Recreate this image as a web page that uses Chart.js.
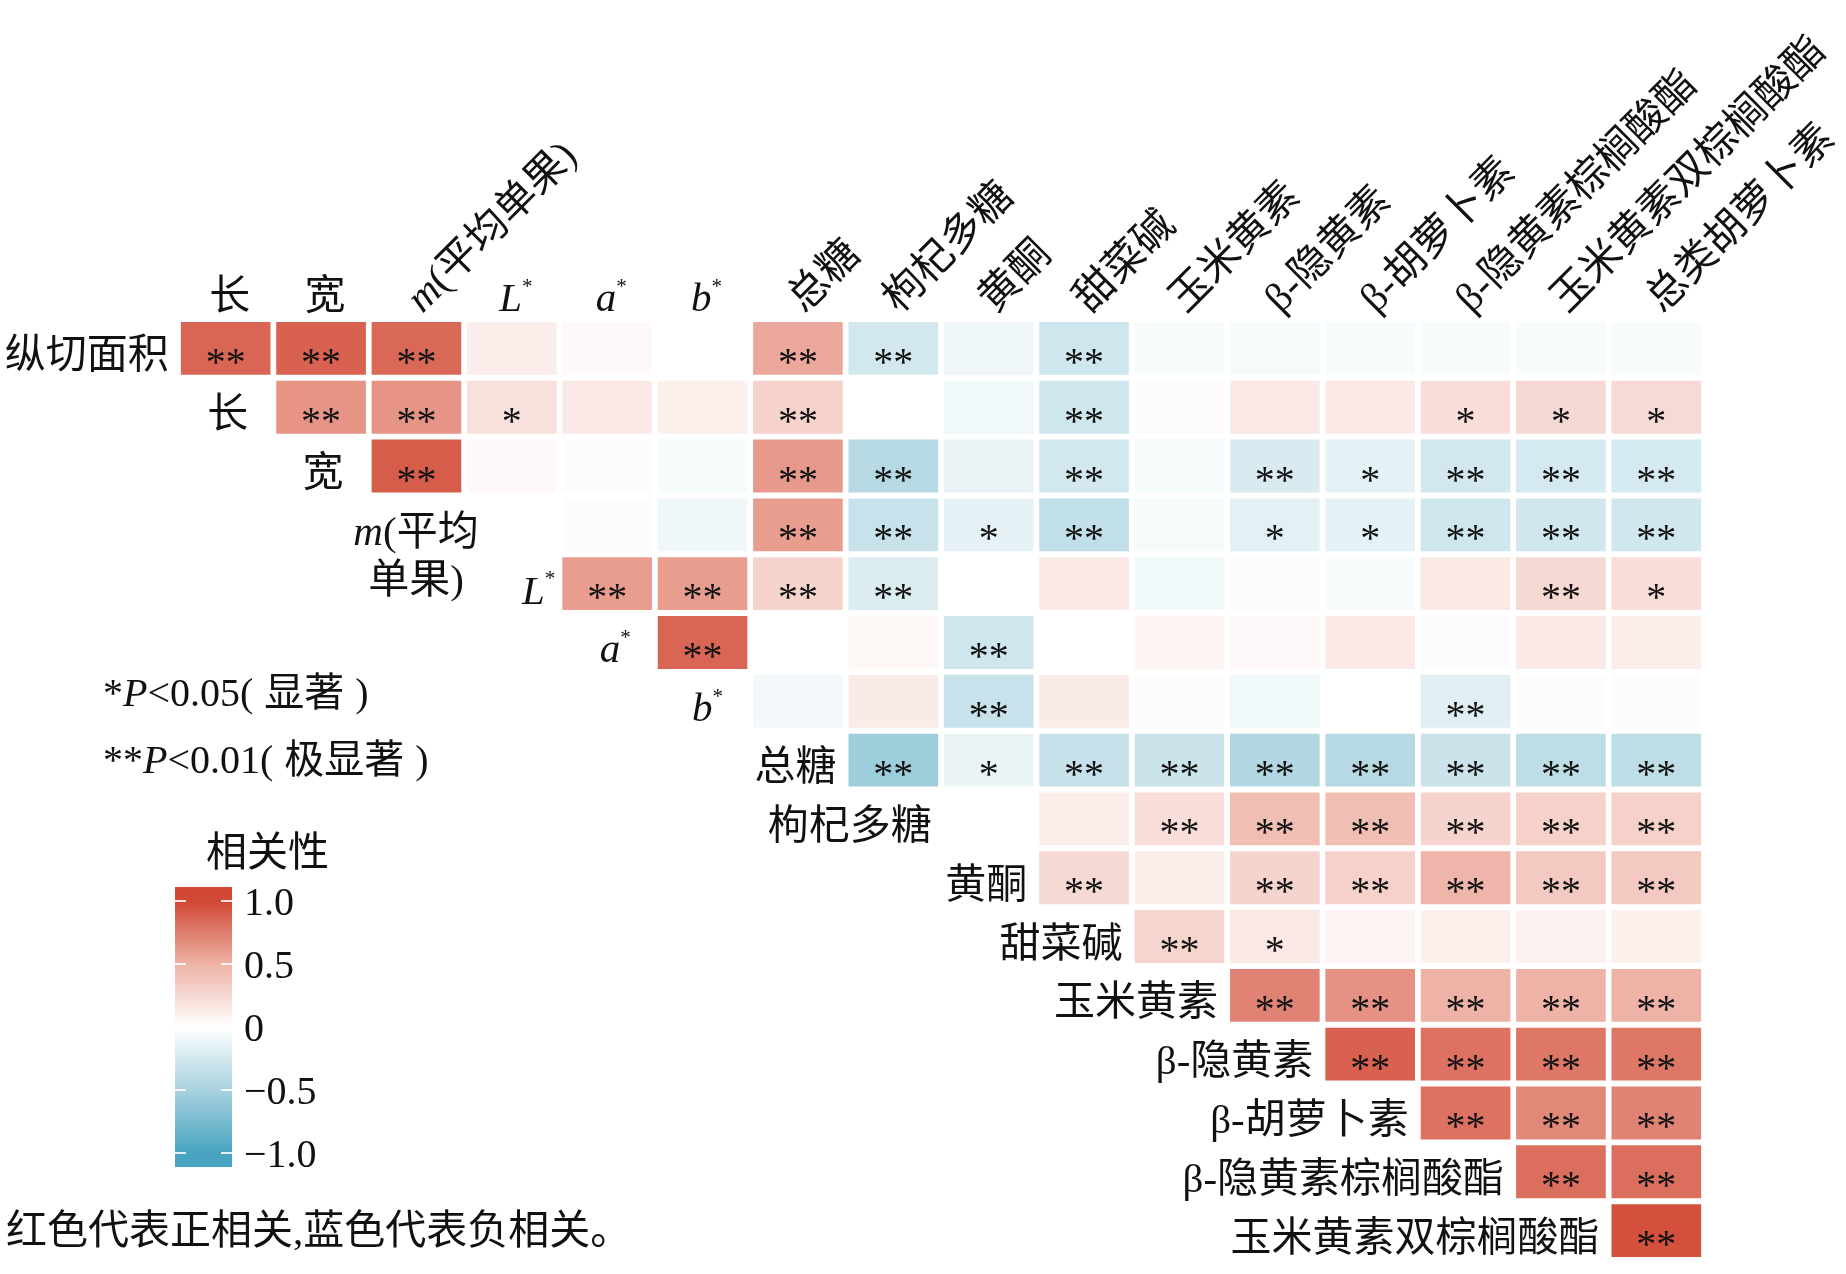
<!DOCTYPE html>
<html>
<head>
<meta charset="utf-8">
<script src="https://cdn.jsdelivr.net/npm/chart.js@4.4.1/dist/chart.umd.min.js"></script>
<style>
    html, body { margin: 0; padding: 0; background: #fff; }
    #wrap { position: relative; width: 1846px; height: 1274px; }
    #corrChart { position: absolute; left: 0; top: 0; }
</style>
</head>
<body>
<div id="wrap"><canvas id="corrChart" width="1846" height="1274"></canvas></div>
<script>
// Column and row labels of the correlation triangle
const colLabels = ['长', '宽', 'm(平均单果)', 'L*', 'a*', 'b*', '总糖', '枸杞多糖', '黄酮', '甜菜碱',
    '玉米黄素', 'β-隐黄素', 'β-胡萝卜素', 'β-隐黄素棕榈酸酯', '玉米黄素双棕榈酸酯', '总类胡萝卜素'];
const rowLabels = ['纵切面积', '长', '宽', 'm(平均单果)', 'L*', 'a*', 'b*', '总糖', '枸杞多糖', '黄酮',
    '甜菜碱', '玉米黄素', 'β-隐黄素', 'β-胡萝卜素', 'β-隐黄素棕榈酸酯', '玉米黄素双棕榈酸酯'];

// Correlation values, row i starts at column i
const r0 = [0.86, 0.88, 0.85, 0.12, 0.04, 0.0, 0.55, -0.26, -0.10, -0.28, -0.04, -0.06, -0.05, -0.04, -0.04, -0.04];
const r1 = [0.64, 0.64, 0.20, 0.14, 0.10, 0.29, 0.0, -0.08, -0.28, 0.02, 0.14, 0.14, 0.22, 0.25, 0.24];
const r2 = [0.90, 0.04, -0.03, -0.05, 0.62, -0.42, -0.12, -0.26, -0.05, -0.22, -0.15, -0.26, -0.24, -0.24];
const r3 = [0.0, -0.03, -0.09, 0.60, -0.32, -0.14, -0.36, -0.06, -0.16, -0.15, -0.28, -0.27, -0.27];
const r4 = [0.60, 0.60, 0.28, -0.20, 0.0, 0.14, -0.08, -0.03, -0.05, 0.14, 0.25, 0.22];
const r5 = [0.86, 0.0, 0.05, -0.28, 0.0, 0.07, 0.04, 0.14, -0.03, 0.14, 0.12];
const r6 = [-0.07, 0.13, -0.32, 0.13, -0.03, -0.08, 0.0, -0.18, 0.02, 0.02];
const r7 = [-0.55, -0.12, -0.33, -0.30, -0.45, -0.42, -0.30, -0.38, -0.38];
const r8 = [0.0, 0.12, 0.22, 0.42, 0.42, 0.28, 0.30, 0.30];
const r9 = [0.25, 0.12, 0.28, 0.30, 0.48, 0.35, 0.35];
const r10 = [0.27, 0.15, 0.07, 0.10, 0.08, 0.10];
const r11 = [0.72, 0.65, 0.50, 0.50, 0.50];
const r12 = [0.88, 0.80, 0.78, 0.78];
const r13 = [0.80, 0.70, 0.72];
const r14 = [0.82, 0.82];
const r15 = [0.96];
const corrRows = [r0, r1, r2, r3, r4, r5, r6, r7, r8, r9, r10, r11, r12, r13, r14, r15];

// Significance marks, same layout as the values
const s0 = ['**', '**', '**', '', '', '', '**', '**', '', '**', '', '', '', '', '', ''];
const s1 = ['**', '**', '*', '', '', '**', '', '', '**', '', '', '', '*', '*', '*'];
const s2 = ['**', '', '', '', '**', '**', '', '**', '', '**', '*', '**', '**', '**'];
const s3 = ['', '', '', '**', '**', '*', '**', '', '*', '*', '**', '**', '**'];
const s4 = ['**', '**', '**', '**', '', '', '', '', '', '', '**', '*'];
const s5 = ['**', '', '', '**', '', '', '', '', '', '', ''];
const s6 = ['', '', '**', '', '', '', '', '**', '', ''];
const s7 = ['**', '*', '**', '**', '**', '**', '**', '**', '**'];
const s8 = ['', '', '**', '**', '**', '**', '**', '**'];
const s9 = ['**', '', '**', '**', '**', '**', '**'];
const s10 = ['**', '*', '', '', '', ''];
const s11 = ['**', '**', '**', '**', '**'];
const s12 = ['**', '**', '**', '**'];
const s13 = ['**', '**', '**'];
const s14 = ['**', '**'];
const s15 = ['**'];
const sigRows = [s0, s1, s2, s3, s4, s5, s6, s7, s8, s9, s10, s11, s12, s13, s14, s15];

// Colour bar ticks
const barTicks = [1.0, 0.5, 0, -0.5, -1.0];
const barTickLabels = ['1.0', '0.5', '0', '\u22120.5', '\u22121.0'];

const FAMILY = '"Liberation Serif", "Noto Sans CJK SC", serif';
const colorStops = [
    [-1, [72, 164, 193]],
    [-0.5, [168, 210, 223]],
    [0, [255, 255, 255]],
    [0.5, [238, 178, 166]],
    [1, [209, 72, 52]]
];

function corrColor(v) {
    v = Math.max(-1, Math.min(1, v));
    for (let k = 0; k < colorStops.length - 1; k++) {
        const [a, ca] = colorStops[k];
        const [b, cb] = colorStops[k + 1];
        if (v >= a && v <= b) {
            const t = (v - a) / (b - a);
            const c = ca.map((x, n) => Math.round(x + (cb[n] - x) * t));
            return `rgb(${c[0]},${c[1]},${c[2]})`;
        }
    }
    return '#fff';
}

// Split a label into styled pieces (italic letters, superscript asterisk)
function partsOf(label) {
    if (/^[Lab]\*$/.test(label)) return [{ t: label[0], it: true }, { t: '*', sup: true }];
    if (label.startsWith('m(')) return [{ t: 'm', it: true }, { t: label.slice(1) }];
    return [{ t: label }];
}

function fontFor(p, size) {
    const s = p.sup ? Math.round(size * 0.5) : size;
    return (p.it ? 'italic ' : '') + s + 'px ' + FAMILY;
}

// pieces may carry a "pad" (extra space after the piece)
function drawParts(ctx, parts, x, y, size, align) {
    const widths = parts.map(p => { ctx.font = fontFor(p, size); return ctx.measureText(p.t).width + (p.pad || 0); });
    const total = widths.reduce((a, b) => a + b, 0);
    let cx = align === 'right' ? x - total : align === 'center' ? x - total / 2 : x;
    ctx.textAlign = 'left';
    ctx.textBaseline = 'alphabetic';
    parts.forEach((p, k) => {
        ctx.font = fontFor(p, size);
        ctx.fillText(p.t, cx, p.sup ? y - size * 0.45 : y);
        cx += widths[k];
    });
}

// Build one floating-bar dataset per row
const datasets = corrRows.map((vals, i) => ({
    label: rowLabels[i],
    data: colLabels.map((c, j) => j < i ? null : [i + 0.05, i + 0.95]),
    backgroundColor: colLabels.map((c, j) => j < i ? 'rgba(0,0,0,0)' : corrColor(vals[j - i])),
    borderWidth: 0,
    grouped: false,
    barPercentage: 0.94,
    categoryPercentage: 1
}));

const flatCols = [0, 1, 3, 4, 5];
const rowLabelGap = { 1: 28, 2: 28, 4: 7, 5: 27, 6: 30 };

const annotations = {
    id: 'annotations',
    afterDatasetsDraw(chart) {
        const ctx = chart.ctx;
        const xs = chart.scales.x;
        ctx.save();
        ctx.fillStyle = '#111';

        // significance marks
        ctx.font = '40px ' + FAMILY;
        corrRows.forEach((vals, i) => {
            const meta = chart.getDatasetMeta(i);
            sigRows[i].forEach((s, k) => {
                if (!s) return;
                const el = meta.data[i + k];
                const p = el.getProps(['x', 'y', 'base'], true);
                const cy = (p.y + p.base) / 2;
                const m = ctx.measureText(s);
                const inkMid = (m.actualBoundingBoxAscent - m.actualBoundingBoxDescent) / 2;
                ctx.textAlign = 'center';
                ctx.textBaseline = 'alphabetic';
                ctx.fillText(s, p.x, cy + 8 + inkMid);
            });
        });

        // row labels at the left end of every row
        rowLabels.forEach((lab, i) => {
            const el = chart.getDatasetMeta(i).data[i];
            const p = el.getProps(['x', 'y', 'base', 'width'], true);
            const cy = (p.y + p.base) / 2;
            if (lab.startsWith('m(')) {
                drawParts(ctx, [{ t: 'm', it: true }, { t: '(平均' }], 416, 545, 41, 'center');
                drawParts(ctx, [{ t: '单果)' }], 416, 593, 41, 'center');
                return;
            }
            const gap = rowLabelGap[i] || 12;
            drawParts(ctx, partsOf(lab), p.x - p.width / 2 - gap, cy + 20, 41, 'right');
        });

        // column labels on top
        colLabels.forEach((lab, j) => {
            const xc = xs.getPixelForValue(j);
            if (flatCols.includes(j)) {
                const base = /[Lab]/.test(lab[0]) ? 311 : 309;
                drawParts(ctx, partsOf(lab), xc + 4, base, 41, 'center');
            } else {
                ctx.save();
                ctx.translate(xc + 6, 314);
                ctx.rotate(-Math.PI / 4);
                drawParts(ctx, partsOf(lab), 0, 0, 41, 'left');
                ctx.restore();
            }
        });

        // significance legend
        drawParts(ctx, [{ t: '*' }, { t: 'P', it: true }, { t: '<0.05' }, { t: '(', pad: 11 }, { t: '显著', pad: 11 }, { t: ')' }], 103, 706, 40, 'left');
        drawParts(ctx, [{ t: '**' }, { t: 'P', it: true }, { t: '<0.01' }, { t: '(', pad: 11 }, { t: '极显著', pad: 11 }, { t: ')' }], 103, 773, 40, 'left');

        // colour bar
        const barL = 175, barR = 232, barTop = 887, barBot = 1167;
        const yOf = v => 1027 - v * 126;
        const grad = ctx.createLinearGradient(0, yOf(1), 0, yOf(-1));
        colorStops.slice().reverse().forEach(([v, c]) => {
            grad.addColorStop((1 - v) / 2, `rgb(${c[0]},${c[1]},${c[2]})`);
        });
        ctx.fillStyle = corrColor(1);
        ctx.fillRect(barL, barTop, barR - barL, yOf(1) - barTop);
        ctx.fillStyle = corrColor(-1);
        ctx.fillRect(barL, yOf(-1), barR - barL, barBot - yOf(-1));
        ctx.fillStyle = grad;
        ctx.fillRect(barL, yOf(1), barR - barL, yOf(-1) - yOf(1));
        ctx.fillStyle = 'rgba(255,255,255,0.85)';
        barTicks.forEach(v => {
            ctx.fillRect(barL, yOf(v) - 1, 11, 2);
            ctx.fillRect(barR - 11, yOf(v) - 1, 11, 2);
        });
        ctx.fillStyle = '#111';
        barTicks.forEach((v, k) => {
            drawParts(ctx, [{ t: barTickLabels[k] }], 244, yOf(v) + 14, 40, 'left');
        });
        drawParts(ctx, [{ t: '相关性' }], 206, 866, 41, 'left');

        // footnote
        drawParts(ctx, [{ t: '红色代表正相关,蓝色代表负相关。' }], 6, 1244, 41, 'left');
        ctx.restore();
    }
};

const corrChart = new Chart(document.getElementById('corrChart').getContext('2d'), {
    type: 'bar',
    data: { labels: colLabels, datasets: datasets },
    options: {
        responsive: false,
        devicePixelRatio: 1,
        animation: false,
        layout: { padding: { left: 178, right: 142, top: 319, bottom: 14 } },
        plugins: { legend: { display: false }, tooltip: { enabled: false } },
        scales: {
            x: { display: false, offset: true },
            y: { display: false, reverse: true, min: 0, max: 16 }
        }
    },
    plugins: [annotations]
});
</script>
</body>
</html>
